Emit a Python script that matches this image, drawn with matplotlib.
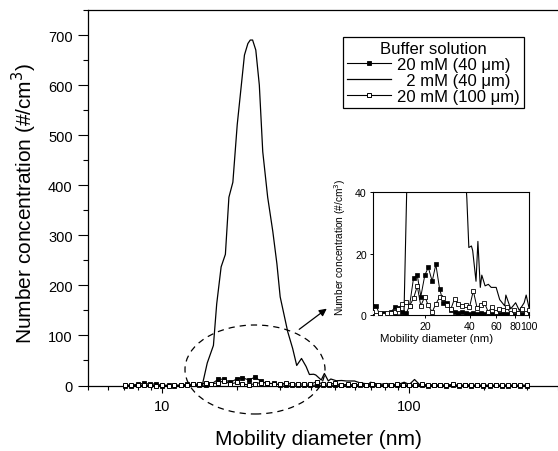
import matplotlib
matplotlib.use('Agg')
import matplotlib.pyplot as plt
from matplotlib.patches import Ellipse, FancyArrowPatch
from matplotlib.ticker import FixedLocator, NullFormatter, FuncFormatter, MultipleLocator, LogLocator

plt.rcParams['font.family'] = ['Liberation Sans', 'DejaVu Sans']

# ---------------- data ----------------
# common diameter grid (nm) for the two 20 mM series
diam = [7.08, 7.50, 7.94, 8.41, 8.91, 9.44, 10.0, 10.6, 11.2, 11.9,
        12.6, 13.3, 14.1, 15.0, 15.8, 16.8, 17.8, 18.8, 20.0, 21.1,
        22.4, 23.7, 25.1, 26.6, 28.2, 29.9, 31.6, 33.5, 35.5, 37.6,
        39.8, 42.2, 44.7, 47.3, 50.1, 53.1, 56.2, 59.6, 63.1, 66.8,
        70.8, 75.0, 79.4, 84.1, 89.1, 94.4, 100.0, 105.9, 112.2, 118.9,
        125.9, 133.4, 141.3, 149.6, 158.5, 167.9, 177.8, 188.4, 199.5, 211.3,
        223.9, 237.1, 251.2, 266.1, 281.8, 298.5]

# 20 mM (40 um) - filled squares
conc_20mM_40 = [0, 0, 3, 4, 3, 3,
                0, 0.5, 0, 1, 2.5, 2.2, 1, 0.5, 3,
                12, 13, 6, 13, 15.5, 11, 16.5, 8.6, 4, 4, 1.5,
                1, 0.5, 1, 0.5, 0.3, 0.8, 0.2, 0.5, 0.3, 0.6,
                0.2, 0.5, 0.3, 0.6, 0.2, 0.4, 0.1, 0.5, 0.2, 0.3,
                0.2, 0.1, 0.3, 0, 0.2, 0.1, 0, 0.2, 0, 0.1,
                0, 0.2, 0, 0, 0.1, 0, 0, 0.1, 0, 0]

# 20 mM (100 um) - open squares
conc_20mM_100 = [1, 0.5, 1, 0.5, 1, 0,
                 0.5, 0, 0.5, 0.5, 1, 2, 3.6, 4.4, 3,
                 5.4, 9.4, 3, 6, 3.1, 1, 3.6, 5.8, 5.5, 3.1, 2,
                 5.3, 3.6, 3, 3.3, 2.5, 7.9, 2.4, 3.3, 4, 1,
                 2.5, 1, 2, 1.5, 2.5, 0.5, 1.5, 0.5, 2, 0.5,
                 1.5, 1, 2, 1, 1.5, 0.5, 1, 2, 0.5, 1,
                 1.5, 0.5, 1, 0.5, 1, 0.5, 1.5, 0.5, 1, 0.5]

# 2 mM (40 um) - solid line
diam_2mM = [7.0, 10.0, 14.5, 15.2, 16.1, 16.6, 17.3, 18.0, 18.6, 19.3,
            20.1, 21.5, 22.2, 22.7, 23.2, 23.9, 24.7, 25.5, 26.7, 28.0,
            29.1, 30.0, 32.2, 33.7, 35.0, 36.6, 38.2, 39.4, 41.0, 41.8,
            44.0, 45.3, 47.0, 48.1, 50.6, 53.2, 55.6, 60.0, 63.4, 68.4,
            69.7, 75.1, 81.0, 85.7, 92.4, 95.3, 100.0, 105.0, 110.0, 120.0,
            140.0, 200.0, 300.0]
conc_2mM_40 = [0, 0, 0, 45, 80, 163, 237, 262, 376, 406,
               521, 660, 683, 690, 690, 670, 600, 467, 376, 308,
               243, 177, 107, 74, 40, 54, 38, 22, 22.5, 21,
               11, 24, 9, 13, 9.5, 10, 9, 9, 5, 3,
               6.5, 2, 4, 1.5, 4, 6.5, 2, 12, 2, 1,
               0.5, 0, 0]

labels = ['20 mM (40 \u03bcm)', '  2 mM (40 \u03bcm)', '20 mM (100 \u03bcm)']
legend_title = 'Buffer solution'
main_xticks = [10, 100]
inset_xticks = [20, 40, 60, 80, 100]
inset_yticks = [0, 20, 40]

# ---------------- figure ----------------
W, H = 558, 452
fig = plt.figure(figsize=(W / 100, H / 100), dpi=100)


def fx(px):
    return px / W


def fy(py):
    return 1 - py / H


ax = fig.add_axes([fx(88), fy(386.5), (558 - 88) / W, (386.5 - 11) / H])

l1, = ax.plot(diam, conc_20mM_40, color='k', lw=0.8, marker='s', ms=3.5,
              mfc='k', mec='k', mew=0.6, clip_on=False, zorder=3)
l2, = ax.plot(diam_2mM, conc_2mM_40, color='k', lw=0.9, clip_on=False, zorder=2)
l3, = ax.plot(diam, conc_20mM_100, color='k', lw=0.8, marker='s', ms=3.5,
              mfc='white', mec='k', mew=0.7, clip_on=False, zorder=4)

ax.set_xscale('log')
ax.set_xlim(5, 400)
ax.set_ylim(0, 750)
ax.xaxis.set_major_locator(FixedLocator(main_xticks))
ax.xaxis.set_major_formatter(FuncFormatter(lambda v, p: f'{v:g}'))
ax.xaxis.set_minor_locator(LogLocator(base=10, subs=(2, 3, 4, 5, 6, 7, 8, 9), numticks=20))
ax.xaxis.set_minor_formatter(NullFormatter())
ax.yaxis.set_major_locator(MultipleLocator(100))
ax.yaxis.set_minor_locator(MultipleLocator(50))
ax.spines['right'].set_visible(False)
for s in ax.spines.values():
    s.set_linewidth(0.9)
ax.tick_params(axis='y', which='major', direction='out', length=7, width=0.8,
               labelsize=10.5, pad=4, right=False)
ax.tick_params(axis='y', which='minor', direction='out', length=3.5, width=0.8, right=False)
ax.tick_params(axis='x', which='major', direction='out', length=5, width=0.8,
               labelsize=10.5, pad=4.5, top=False)
ax.tick_params(axis='x', which='minor', direction='out', length=3, width=0.8, top=False)

ax.set_xlabel('Mobility diameter (nm)', fontsize=15, va='baseline')
ax.xaxis.set_label_coords((318.5 - 88) / 470, (386.5 - 445) / 375.5)
ax.set_ylabel('Number concentration (#/cm$^3$)', fontsize=15, va='baseline')
ax.yaxis.set_label_coords((32 - 88) / 470, (386.5 - 203) / 375.5)

leg = ax.legend([l1, l2, l3], labels, title=legend_title, loc='upper left',
                bbox_to_anchor=(fx(343), fy(38)), bbox_transform=fig.transFigure,
                borderaxespad=0, frameon=True, fancybox=False, edgecolor='k',
                framealpha=1, fontsize=12, title_fontsize=12, handlelength=2.6,
                handletextpad=0.4, labelspacing=0.05, borderpad=0.25, numpoints=1)
leg.get_frame().set_linewidth(0.9)

# dashed ellipse and arrow
ell = Ellipse((fx(255), fy(370.5)), width=140 / W, height=89 / H,
              transform=fig.transFigure, fill=False, edgecolor='k',
              lw=0.9, linestyle=(0, (5, 4)), zorder=10)
fig.add_artist(ell)
arr = FancyArrowPatch((fx(297), fy(332)), (fx(329), fy(308)),
                      transform=fig.transFigure, arrowstyle='-|>',
                      mutation_scale=11, lw=0.9, color='k', zorder=10)
fig.add_artist(arr)

# ---------------- inset ----------------
axi = fig.add_axes([fx(373), fy(316), (529.3 - 373) / W, (316 - 193.3) / H])
axi.plot(diam, conc_20mM_40, color='k', lw=0.7, marker='s', ms=3.0,
         mfc='k', mec='k', mew=0.5, zorder=3)
axi.plot(diam_2mM, conc_2mM_40, color='k', lw=0.8, zorder=2)
axi.plot(diam, conc_20mM_100, color='k', lw=0.7, marker='s', ms=3.0,
         mfc='white', mec='k', mew=0.6, zorder=4)
axi.set_xscale('log')
axi.set_xlim(9, 100)
axi.set_ylim(0, 40)
axi.xaxis.set_major_locator(FixedLocator(inset_xticks))
axi.xaxis.set_major_formatter(FuncFormatter(lambda v, p: f'{v:g}'))
axi.xaxis.set_minor_locator(FixedLocator([]))
axi.yaxis.set_major_locator(FixedLocator(inset_yticks))
for s in axi.spines.values():
    s.set_linewidth(0.8)
axi.tick_params(which='major', direction='out', length=2.5, width=0.7,
                labelsize=7.6, pad=2)
axi.set_xlabel('Mobility diameter (nm)', fontsize=8.2, va='baseline')
axi.xaxis.set_label_coords((437 - 373) / 156.3, (316 - 342) / 122.7)
axi.set_ylabel('Number concentration (#/cm$^3$)', fontsize=7.3, va='baseline')
axi.yaxis.set_label_coords((344 - 373) / 156.3, (316 - 247) / 122.7)

fig.savefig('out.png', dpi=100)
